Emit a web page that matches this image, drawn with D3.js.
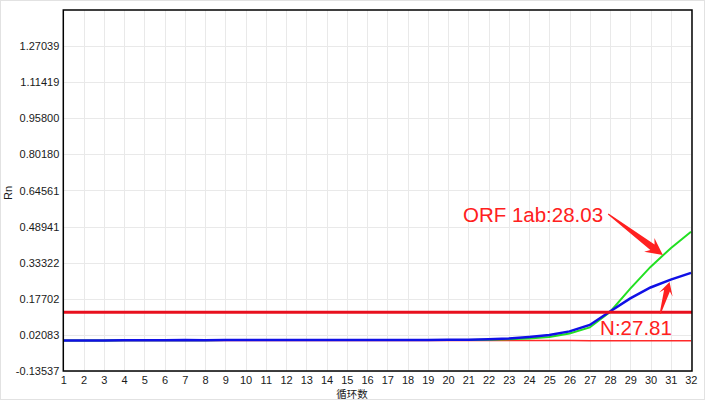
<!DOCTYPE html>
<html>
<head>
<meta charset="utf-8">
<script src="https://cdn.jsdelivr.net/npm/d3@7"></script>
<style>
html,body{margin:0;padding:0;background:#fff;}
svg{display:block;}
</style>
</head>
<body>
<svg id="chart" width="705" height="400"></svg>
<script>
// ---- data ----
const cycles = d3.range(1, 33);
const blueSeries = [-0.003,-0.003,-0.003,-0.002,-0.002,-0.002,-0.001,-0.002,-0.001,-0.001,
  -0.001,-0.001,-0.001,-0.001,-0.001,-0.001,-0.001,-0.001,-0.001,0.000,
  0.000,0.002,0.005,0.012,0.020,0.036,0.064,0.122,0.179,0.226,0.260,0.289];
const greenSeries = [-0.003,-0.003,-0.003,-0.002,-0.002,-0.002,-0.001,-0.002,-0.001,-0.001,
  -0.001,-0.001,-0.001,-0.001,-0.001,-0.001,-0.001,-0.001,-0.001,-0.001,
  -0.001,0.000,0.002,0.005,0.012,0.027,0.053,0.120,0.221,0.315,0.396,0.467];
const redSeries = [-0.003,-0.003,-0.003,-0.003,-0.003,-0.003,-0.003,-0.003,-0.003,-0.003,
  -0.003,-0.003,-0.003,-0.003,-0.003,-0.003,-0.003,-0.003,-0.003,-0.003,
  -0.003,-0.003,-0.003,-0.003,-0.003,-0.003,-0.004,-0.004,-0.004,-0.004,-0.004,-0.004];
const threshold = 0.1186;
const yTickLabels = ["-0.13537","0.02083","0.17702","0.33322","0.48941","0.64561","0.80180","0.95800","1.11419","1.27039"];
const yMin = -0.13537, yMax = 1.42658;
const xLabel = "循环数", yLabel = "Rn";
// annotations: text position (cycle, value), arrow tail and tip (cycle, value)
const annotations = [
  {text:"ORF 1ab:28.03", tx:27.66, ty:0.508, anchor:"end", tail:[27.91,0.544], tip:[30.61,0.366], hl:17, hw:8.5, sw:3.5},
  {text:"N:27.81", tx:27.51, ty:0.020, anchor:"start", tail:[30.48,0.113], tip:[30.94,0.250], hl:13, hw:7, sw:3}
];

// ---- layout ----
const svg = d3.select("#chart");
const L = 63.3, R = 691, T = 10, B = 371;
const x = d3.scaleLinear().domain([1, 32]).range([L, R]);
const y = d3.scaleLinear().domain([yMin, yMax]).range([B, T]);

svg.append("rect").attr("x",0.5).attr("y",0.5).attr("width",704).attr("height",399)
  .attr("fill","#fff").attr("stroke","#e2e2e2");

// grid
const g = svg.append("g");
g.selectAll("line.vg").data(cycles).join("line").attr("class","vg")
  .attr("x1", d=>Math.round(x(d))+0.5).attr("x2", d=>Math.round(x(d))+0.5)
  .attr("y1", T).attr("y2", B).attr("stroke","#e9e9e9").attr("stroke-width",1);
const yTickVals = yTickLabels.map(Number);
g.selectAll("line.hg").data(yTickVals).join("line").attr("class","hg")
  .attr("x1", L).attr("x2", R)
  .attr("y1", d=>Math.round(y(d))+0.5).attr("y2", d=>Math.round(y(d))+0.5)
  .attr("stroke","#e9e9e9").attr("stroke-width",1);

// axes (labels only, via d3 axis)
const fontFam = "'Liberation Sans', Arial, sans-serif";
const yAxis = svg.append("g").attr("transform",`translate(${L-4},0)`)
  .call(d3.axisLeft(y).tickValues(yTickVals).tickFormat((d,i)=>yTickLabels[i]).tickSize(0).tickPadding(0));
yAxis.select(".domain").remove();
yAxis.selectAll("text").attr("font-family",fontFam).attr("font-size","11px").attr("fill","#1a1a1a");

const xAxis = svg.append("g").attr("transform",`translate(0,${B+5})`)
  .call(d3.axisBottom(x).tickValues(cycles).tickFormat(d3.format("d")).tickSize(0).tickPadding(0));
xAxis.select(".domain").remove();
xAxis.selectAll("text").attr("font-family",fontFam).attr("font-size","11px").attr("fill","#1a1a1a");
xAxis.selectAll(".tick").filter(d=>d===32).select("text").attr("text-anchor","end").attr("dx","6");

svg.append("text").attr("x",352).attr("y",397.5).attr("text-anchor","middle")
  .attr("font-family","'Noto Sans CJK SC', sans-serif").attr("font-size","10.5px").attr("fill","#1a1a1a").text(xLabel);
svg.append("text").attr("transform","translate(12,193) rotate(-90)").attr("text-anchor","middle")
  .attr("font-family",fontFam).attr("font-size","11px").attr("fill","#1a1a1a").text(yLabel);

// curves
const line = d3.line().x((d,i)=>x(cycles[i])).y(d=>y(d));
svg.append("clipPath").attr("id","clip").append("rect").attr("x",L).attr("y",T).attr("width",R-L+1).attr("height",B-T);
const curves = svg.append("g").attr("clip-path","url(#clip)");
curves.append("path").datum(redSeries).attr("d",line).attr("fill","none").attr("stroke","#ff2a2a").attr("stroke-width",1.5);
curves.append("path").datum(greenSeries).attr("d",line).attr("fill","none").attr("stroke","#22e022").attr("stroke-width",2);
curves.append("path").datum(blueSeries).attr("d",line).attr("fill","none").attr("stroke","#1010e6").attr("stroke-width",2.5);
curves.append("line").attr("x1",L).attr("x2",R+1).attr("y1",y(threshold)).attr("y2",y(threshold))
  .attr("stroke","#e8101e").attr("stroke-width",3);

// frame
svg.append("rect").attr("x",L).attr("y",T).attr("width",R+1-L).attr("height",B-T)
  .attr("fill","none").attr("stroke","#000").attr("stroke-width",1.5);

// annotations
const annG = svg.append("g");
annotations.forEach(a=>{
  const x0 = x(a.tail[0]), y0 = y(a.tail[1]), x1 = x(a.tip[0]), y1 = y(a.tip[1]);
  const len = Math.hypot(x1-x0, y1-y0);
  const ux = (x1-x0)/len, uy = (y1-y0)/len, nx = -uy, ny = ux;
  const P = (t, w)=>[x0+ux*t+nx*w, y0+uy*t+ny*w];
  const pts = [P(0,0.6), P(len-a.hl+4, a.sw), P(len-a.hl, a.hw), P(len,0), P(len-a.hl,-a.hw), P(len-a.hl+4,-a.sw), P(0,-0.6)];
  annG.append("polygon").attr("points", pts.map(p=>p.join(",")).join(" ")).attr("fill","#ff2020");
  annG.append("text").attr("x",x(a.tx)).attr("y",y(a.ty)).attr("text-anchor",a.anchor)
    .attr("font-family",fontFam).attr("font-size","20.5px").attr("fill","#ff2020").text(a.text);
});
</script>
</body>
</html>
